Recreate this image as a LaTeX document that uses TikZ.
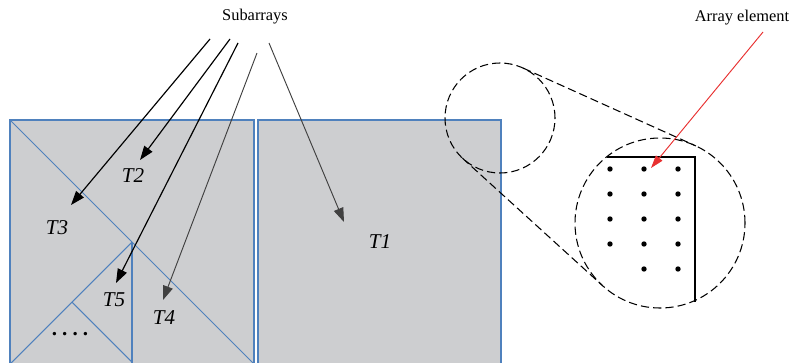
\documentclass[tikz,border=0pt]{standalone}
\usepackage{fontspec}
\setmainfont{Liberation Serif}
\usepackage{xcolor}
\usepackage{tikz}
\usetikzlibrary{arrows.meta}
\definecolor{panelgray}{RGB}{205,206,208}
\definecolor{tileblue}{RGB}{79,129,189}
\definecolor{arrowgray}{RGB}{64,64,64}
\definecolor{pointred}{RGB}{232,48,48}
\tikzstyle{tile}=[fill=panelgray, draw=tileblue, line width=1.6pt]
\tikzstyle{cut}=[draw=tileblue, line width=0.9pt]
\tikzstyle{lbl}=[font=\fontsize{18}{20}\selectfont\itshape, inner sep=1pt]
\tikzstyle{arrow}=[-{Triangle[length=12pt,width=8.5pt]}, line width=1pt]
\tikzstyle{lens}=[circle, draw, dash pattern=on 7pt off 3.5pt, line width=0.9pt,
  inner sep=0pt, outer sep=0pt]

\begin{document}
\begin{tikzpicture}[x=0.03cm,y=-0.03cm]
\clip (0,0) rectangle (790,362);
% two array faces
\draw[tile] (10,120) rectangle (254,372);
\draw[tile] (258,120) rectangle (501,372);
% subarray cuts
\draw[cut] (10,120) -- (254,364);
\draw[cut] (132,242) -- (132,364);
\draw[cut] (132,242) -- (10,364);
\draw[cut] (72,302) -- (132,362);
% labels
\node[lbl] (t1) at (380,242) {T1};
\node[lbl] (t2) at (133,176) {T2};
\node[lbl] (t3) at (57,228) {T3};
\node[lbl] (t4) at (164,318) {T4};
\node[lbl] (t5) at (114,300) {T5};
\node[font=\fontsize{18}{20}\selectfont\bfseries] (more) at (70,334) {.\hspace{4.3pt}.\hspace{4.3pt}.\hspace{4.3pt}.};
\node[font=\fontsize{14}{16}\selectfont] (sub) at (255,17) {Subarrays};
% pointers from the caption
\foreach \nm/\xs/\ys/\xe/\ye/\col/\lw in {3/210/39/71/205/black/1pt, 2/230/39/140/160/black/1pt,
    5/238/43/116/283/black/1pt, 4/257/53/163/300/arrowgray/0.8pt, 1/269/43/344/222/arrowgray/0.8pt} {
  \coordinate (s\nm) at (\xs,\ys);
  \coordinate (e\nm) at (\xe,\ye);
  \draw[arrow,\col,line width=\lw] (s\nm) -- (e\nm);
}
% magnified corner
\node[lens, minimum size=3.3cm] (near) at (500,118) {};
\node[lens, minimum size=5.1cm] (far) at (660,223) {};
\draw[dash pattern=on 7pt off 3.5pt, line width=0.9pt] (near.65.7) -- (far.65.7);
\draw[dash pattern=on 7pt off 3.5pt, line width=0.9pt] (near.227.7) -- (far.227.7);
\draw[line width=1pt] (607,157) -- (695,157) -- (695,302);
\foreach \y in {169,194,219,244}
  \foreach \x in {610,644,678}
    \fill (\x,\y) circle (2.3pt);
\foreach \x in {644,678}
  \fill (\x,269) circle (2.3pt);
% element callout
\node[font=\fontsize{14}{16}\selectfont] (elem) at (742,18) {Array element};
\coordinate (estart) at (763,32);
\coordinate (etip) at (651,168);
\draw[-{Triangle[length=11pt,width=7pt]}, pointred, line width=0.8pt] (estart) -- (etip);
\end{tikzpicture}
\end{document}
